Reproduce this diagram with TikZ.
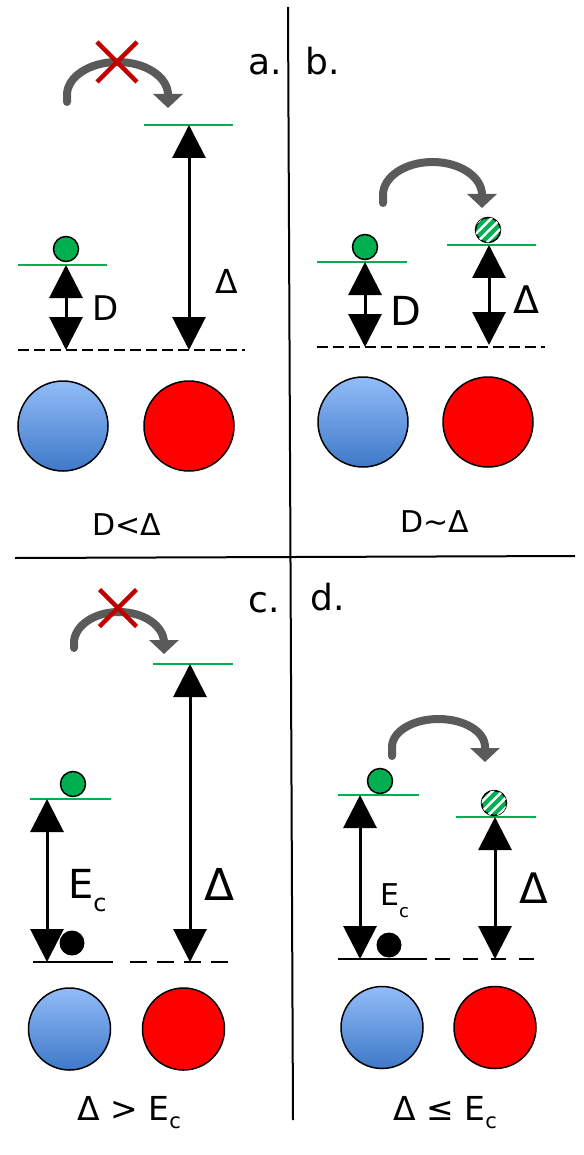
\documentclass[tikz,border=0pt]{standalone}
\usepackage{fontspec}
\setmainfont{DejaVu Sans}
\usepackage{tikz}
\usetikzlibrary{arrows.meta,patterns.meta}

\definecolor{lvlgreen}{RGB}{0,176,80}
\definecolor{hopgray}{RGB}{90,90,90}
\definecolor{nogo}{RGB}{192,0,0}
\definecolor{bluetop}{RGB}{146,188,248}
\definecolor{bluebot}{RGB}{62,121,200}

\newcommand{\lbl}[1]{\fontsize{#1}{#1}\selectfont}
\newcommand{\Esub}[2]{E\raisebox{-#2pt}{\lbl{#1}c}}

\begin{document}
\begin{tikzpicture}[
  x=1pt, y=1pt,
  level/.style={lvlgreen, line width=2.5pt},
  gap/.style={{Triangle[width=33pt,length=33pt]}-{Triangle[width=33pt,length=33pt]},
              line width=3pt},
  base/.style={line width=2.5pt},
  hop/.style={hopgray, line width=8pt, line cap=round,
              -{Triangle[width=29pt,length=14pt]}},
  cross/.style={nogo, line width=4.5pt},
  elec/.style={circle, draw, line width=1.5pt, fill=lvlgreen,
               minimum size=25pt, inner sep=0pt},
  ghost/.style={elec, postaction={pattern={Lines[angle=45,distance=7pt,line width=2.5pt]},
                pattern color=white}},
  core/.style={circle, fill=black, minimum size=25pt, inner sep=0pt},
  site/.style={circle, draw, line width=1.5pt, inner sep=0pt},
  bluesite/.style={site, top color=bluetop, bottom color=bluebot},
  redsite/.style={site, fill=red},
  lab/.style={anchor=base west, inner sep=0pt},
  panel/.style={lab, font=\lbl{36}},
]
\useasboundingbox (0,0) rectangle (583,-1155);

% ---- dividers ----
\draw[line width=2pt] (288,-7) -- (293,-1120);
\draw[line width=2pt] (15,-558) -- (575,-556);

% ---- a. ----
\node[panel] (aTag) at (248,-75) {a.};
\draw[level] (144,-125) -- (233,-125);
\draw[level] (18,-265) -- (107,-265);
\draw[base, dash pattern=on 11pt off 5pt] (18,-350) -- (245,-350);
\node[elec] (aEl) at (66,-249) {};
\coordinate (aD1) at (66,-265);  \coordinate (aD0) at (66,-350);
\coordinate (aG1) at (189,-125); \coordinate (aG0) at (189,-350);
\draw[gap] (aD1) -- (aD0);
\draw[gap] (aG1) -- (aG0);
\node[lab, font=\lbl{34}] (aD) at (92,-320) {D};
\node[lab, font=\lbl{33}] (aDelta) at (215,-294) {Δ};
\draw[hop] (67,-102) -- (67,-95) arc[start angle=180, end angle=0, x radius=50.5, y radius=33]
  -- ++(0,-13);
\draw[cross] (97,-42) -- (137,-82) (97,-82) -- (137,-42);
\node[bluesite, minimum size=90pt] (aBlue) at (63,-426) {};
\node[redsite, minimum size=90pt]  (aRed)  at (189,-426) {};
\node[lab, anchor=base, font=\lbl{30}] (aCap) at (127,-535) {D<Δ};

% ---- b. ----
\node[panel] (bTag) at (305,-75) {b.};
\draw[level] (317,-262) -- (407,-262);
\draw[level] (447,-245) -- (536,-245);
\draw[base, dash pattern=on 11pt off 5pt] (317,-347) -- (545,-347);
\node[elec]  (bEl)    at (365,-247) {};
\node[ghost] (bGhost) at (488,-230) {};
\coordinate (bD1) at (365,-262); \coordinate (bD0) at (365,-347);
\coordinate (bG1) at (489,-245); \coordinate (bG0) at (489,-345);
\draw[gap] (bD1) -- (bD0);
\draw[gap] (bG1) -- (bG0);
\node[lab, font=\lbl{40}] (bD) at (390,-325) {D};
\node[lab, font=\lbl{38}] (bDelta) at (513,-313) {Δ};
\draw[hop] (383,-203) -- (383,-195) arc[start angle=180, end angle=0, x radius=49.5, y radius=33]
  -- ++(0,-13);
\node[bluesite, minimum size=90pt] (bBlue) at (363,-422) {};
\node[redsite, minimum size=90pt]  (bRed)  at (488,-422) {};
\node[lab, anchor=base, font=\lbl{30}] (bCap) at (435,-532) {D\textasciitilde Δ};

% ---- c. ----
\node[panel] (cTag) at (248,-612) {c.};
\draw[level] (153,-664) -- (233,-664);
\draw[level] (30,-799) -- (111,-799);
\draw[base] (33,-962) -- (113,-962);
\draw[base, dash pattern=on 17pt off 10pt] (130,-962) -- (230,-962);
\node[elec] (cEl)   at (73,-784) {};
\node[core] (cCore) at (72,-943) {};
\coordinate (cE1) at (47,-799);  \coordinate (cE0) at (47,-962);
\coordinate (cG1) at (190,-664); \coordinate (cG0) at (190,-962);
\draw[gap] (cE1) -- (cE0);
\draw[gap] (cG1) -- (cG0);
\node[lab, font=\lbl{40}] (cEc) at (68,-898) {\Esub{24}{13}};
\node[lab, font=\lbl{44}] (cDelta) at (204,-900) {Δ};
\draw[hop] (74,-648) -- (74,-643) arc[start angle=180, end angle=0, x radius=45, y radius=31]
  -- ++(0,-11);
\draw[cross] (99.5,-589.5) -- (136.5,-626.5) (99.5,-626.5) -- (136.5,-589.5);
\node[bluesite, minimum size=82pt] (cBlue) at (69.5,-1029) {};
\node[redsite, minimum size=82pt]  (cRed)  at (183.5,-1029) {};
\node[lab, font=\lbl{33}] (cCap) at (77,-1120) {Δ > \Esub{21}{8}};

% ---- d. ----
\node[panel] (dTag) at (310,-610) {d.};
\draw[level] (338,-795) -- (419,-795);
\draw[level] (456,-817) -- (536,-817);
\draw[base] (338,-959) -- (427,-959);
\draw[base, dash pattern=on 15pt off 13pt] (435,-959) -- (536,-959);
\node[elec]  (dEl)    at (380,-781) {};
\node[ghost] (dGhost) at (494,-803) {};
\node[core]  (dCore)  at (389,-945) {};
\coordinate (dE1) at (360,-795); \coordinate (dE0) at (360,-959);
\coordinate (dG1) at (495,-817); \coordinate (dG0) at (495,-959);
\draw[gap] (dE1) -- (dE0);
\draw[gap] (dG1) -- (dG0);
\node[lab, font=\lbl{30}] (dEc) at (380,-905) {\Esub{18}{12}};
\node[lab, font=\lbl{42}] (dDelta) at (519,-903) {Δ};
\draw[hop] (392,-756) -- (392,-747) arc[start angle=180, end angle=0, x radius=46.5, y radius=28]
  -- ++(0,-15);
\node[bluesite, minimum size=82pt] (dBlue) at (382,-1027.5) {};
\node[redsite, minimum size=82pt]  (dRed)  at (495,-1027.5) {};
\node[lab, font=\lbl{33}] (dCap) at (393,-1120) {Δ ≤ \Esub{21}{8}};

\end{tikzpicture}
\end{document}
